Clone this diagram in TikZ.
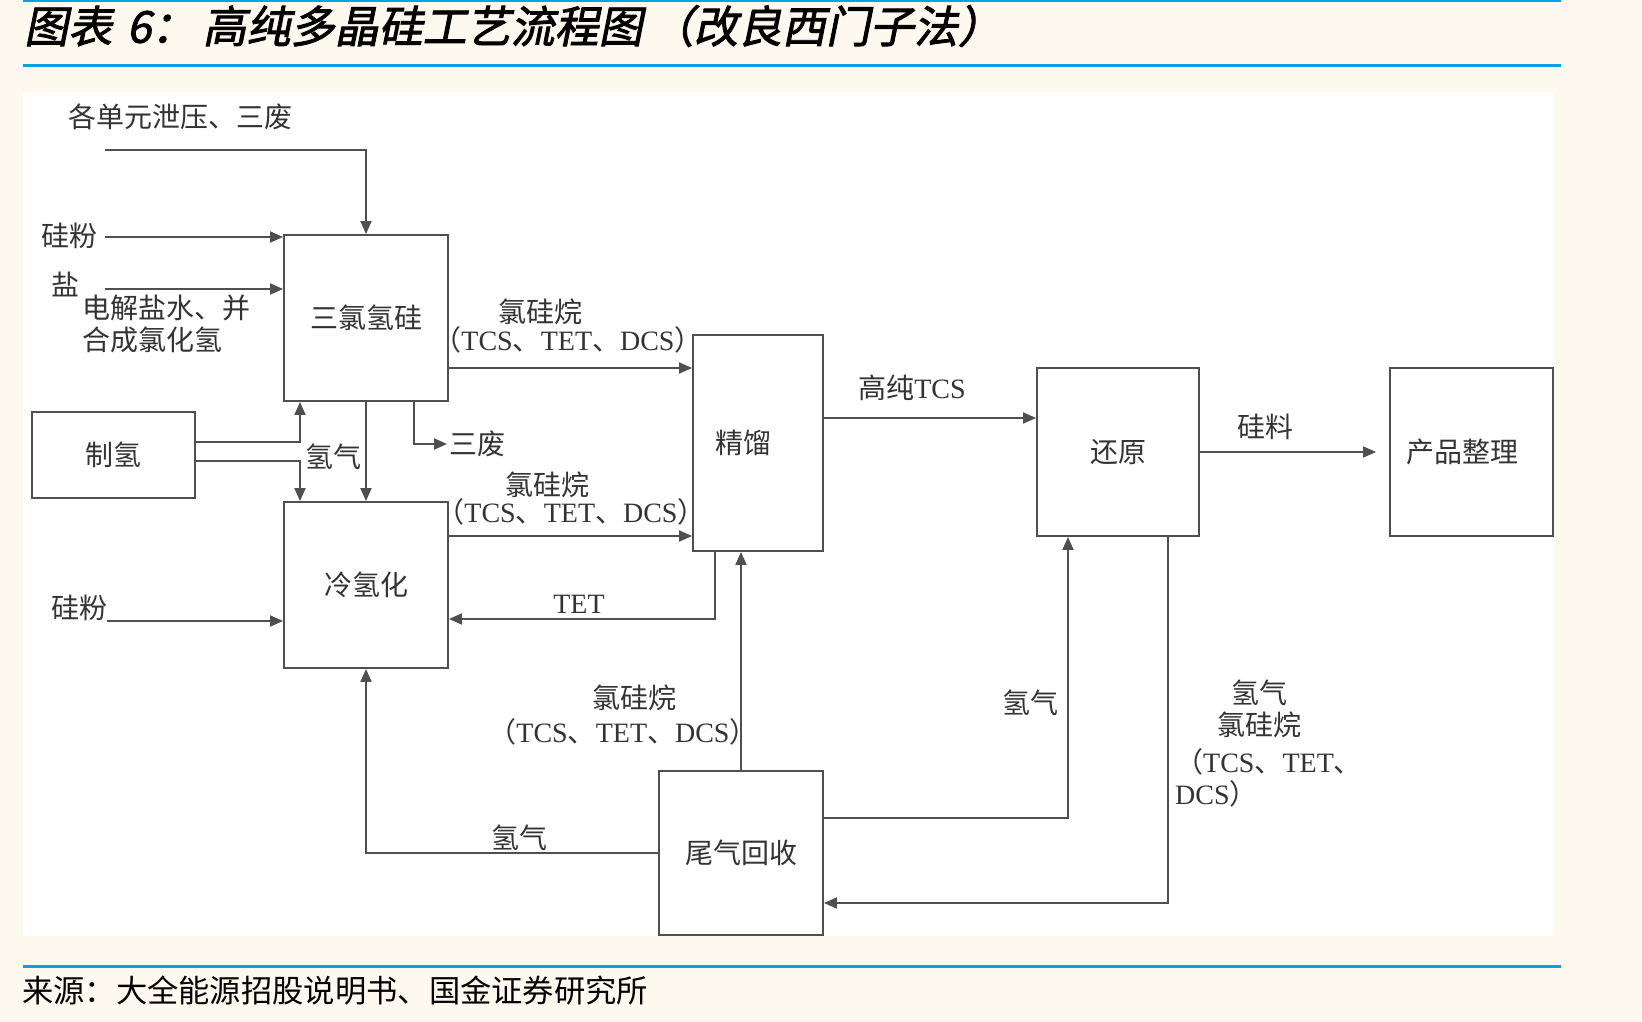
\documentclass[tikz,border=0pt]{standalone}
\usepackage{fontspec}
\setmainfont{Liberation Serif}
\newfontfamily\cjk{Noto Sans CJK SC}
\newfontfamily\titlefont[FakeSlant=0.2,FakeBold=2]{Noto Sans CJK SC}
\usepackage{tikz}
\usetikzlibrary{arrows.meta}

\definecolor{paper}{HTML}{FEF9EE}
\definecolor{rulecol}{HTML}{0AA0E6}
\definecolor{linecol}{HTML}{4F4F4F}
\definecolor{textcol}{HTML}{333333}

\newcommand{\en}[1]{{\rmfamily #1}}

\begin{document}
\begin{tikzpicture}[x=1pt,y=-1pt,>={Triangle[length=13pt,width=11pt]},
	proc node/.style={rectangle,draw=linecol,line width=1.9pt,inner sep=0pt,
		text=textcol,font=\cjk\fontsize{28}{31}\selectfont},
	tag node/.style={inner sep=2pt,text=textcol,font=\cjk\fontsize{28}{32}\selectfont},
	flow/.style={->,draw=linecol,line width=1.9pt}]
	
	\useasboundingbox (0,0) rectangle (1642,1022);
	\fill[paper] (0,0) rectangle (1642,1022);
	\fill[white] (23,92) rectangle (1554,936);
	\fill[rulecol] (23,0) rectangle (1561,2.5);
	\fill[rulecol] (23,64) rectangle (1561,67.5);
	\fill[rulecol] (23,965) rectangle (1561,968);
	
	\node[anchor=west,inner sep=0pt,font=\titlefont\fontsize{44}{44}\selectfont] (title) at (24,26)
		{图表\,\,6：\,高纯多晶硅工艺流程图\,（改良西门子法）};
	\node[anchor=west,inner sep=0pt,font=\cjk\fontsize{31.3}{31.3}\selectfont] (source) at (22,991)
		{来源：大全能源招股说明书、国金证券研究所};
	
	\node[proc node,minimum width=164pt,minimum height=166pt] (sqgui) at (366,318) {三氯氢硅};
	\node[proc node,minimum width=163pt,minimum height=86pt] (zhiqing) at (113.5,455) {制氢};
	\node[proc node,minimum width=164pt,minimum height=166pt] (lqh) at (366,585) {冷氢化};
	\node[proc node,minimum width=130pt,minimum height=216pt,text width=86pt,inner xsep=22pt,align=left] (jingliu) at (758,443) {精馏};
	\node[proc node,minimum width=162pt,minimum height=168pt] (huanyuan) at (1118,452) {还原};
	\node[proc node,minimum width=163pt,minimum height=168pt,text width=131pt,inner xsep=16pt,align=left] (chanpin) at (1471.5,452) {产品整理};
	\node[proc node,minimum width=164pt,minimum height=164pt] (weiqi) at (741,853) {尾气回收};
	
	\node[tag node,anchor=west] (xieya) at (66,117) {各单元泄压、三废};
	\node[tag node,anchor=west] (gf1) at (39,236) {硅粉};
	\node[tag node] (yan) at (65,284) {盐};
	\node[tag node,anchor=west,align=left] (djys) at (80,324) {电解盐水、并\\合成氯化氢};
	\node[tag node] (lgw1) at (540,312) {氯硅烷};
	\node[tag node] (tcs1) at (568,340) {（\en{TCS}、\en{TET}、\en{DCS}）};
	\node[tag node,anchor=west] (sanfei) at (447,444) {三废};
	\node[tag node] (h2a) at (333,457) {氢气};
	\node[tag node] (lgw2) at (547,485) {氯硅烷};
	\node[tag node] (tcs2) at (571,512) {（\en{TCS}、\en{TET}、\en{DCS}）};
	\node[tag node] (tet) at (579,604) {\en{TET}};
	\node[tag node] (gf2) at (79,608) {硅粉};
	\node[tag node] (h2b) at (519,838) {氢气};
	\node[tag node] (lgw3) at (634,698) {氯硅烷};
	\node[tag node] (tcs3) at (623,732) {（\en{TCS}、\en{TET}、\en{DCS}）};
	\node[tag node] (h2c) at (1030,703) {氢气};
	\node[tag node,align=center] (h2d) at (1259,709) {氢气\\氯硅烷};
	\node[tag node,anchor=west,align=left] (tcs4) at (1173,778) {（\en{TCS}、\en{TET}、\\\en{DCS}）};
	\node[tag node] (gctcs) at (912,388) {高纯\en{TCS}};
	\node[tag node] (guiliao) at (1265,427) {硅料};
	
	\coordinate (xyin) at (105,150);
	\coordinate (gf1in) at (105,237);
	\coordinate (yanin) at (105,289);
	\coordinate (gf2in) at (107,621);
	
	\draw[flow] (xyin) -| (sqgui.north);
	\draw[flow] (gf1in) -- (gf1in -| sqgui.west);
	\draw[flow] (yanin) -- (yanin -| sqgui.west);
	\draw[flow] ([yshift=-50pt]sqgui.east) coordinate (s1) -- (s1 -| jingliu.west);
	\draw[flow] ([xshift=48pt]sqgui.south) |- (sanfei.west);
	\draw[flow] (sqgui.south) -- (lqh.north);
	\draw[flow] ([yshift=13pt]zhiqing.east) -| ([xshift=-66pt]sqgui.south);
	\draw[flow] ([yshift=-6pt]zhiqing.east) -| ([xshift=-66pt]lqh.north);
	\draw[flow] ([yshift=49pt]lqh.east) coordinate (s2) -- (s2 -| jingliu.west);
	\draw[flow] ([xshift=-43pt]jingliu.south) |- ([yshift=-34pt]lqh.east);
	\draw[flow] (gf2in) -- (gf2in -| lqh.west);
	\draw[flow] (weiqi.west) -| (lqh.south);
	\draw[flow] (weiqi.north) -- (weiqi.north |- jingliu.south);
	\draw[flow] ([yshift=35pt]weiqi.east) -| ([xshift=-50pt]huanyuan.south);
	\draw[flow] ([xshift=50pt]huanyuan.south) |- ([yshift=-50pt]weiqi.east);
	\draw[flow] ([yshift=25pt]jingliu.east) coordinate (s3) -- (s3 -| huanyuan.west);
	\draw[flow,shorten >=13pt] (huanyuan.east) -- (chanpin.west);
\end{tikzpicture}
\end{document}
